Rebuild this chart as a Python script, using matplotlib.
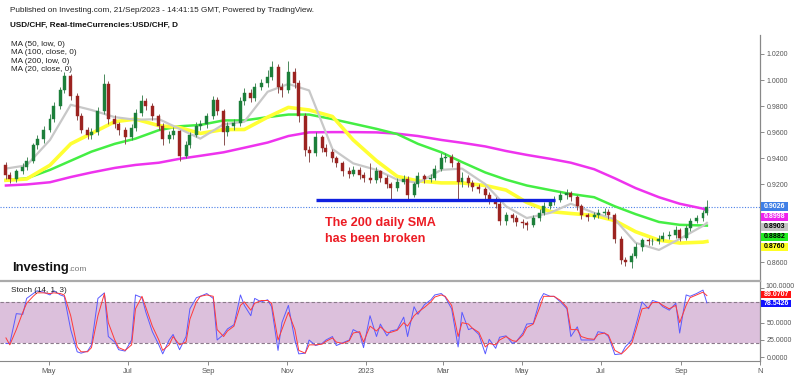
import numpy as np
import pandas as pd
import matplotlib
matplotlib.use('Agg')
import matplotlib.pyplot as plt
from matplotlib.patches import Rectangle

plt.rcParams['font.family'] = ['Liberation Sans', 'DejaVu Sans']

# ---------------- data (3-business-day candles) ----------------
first_open = 0.935
closes = [0.927, 0.924, 0.930, 0.933, 0.938, 0.950, 0.955, 0.962, 0.970, 0.980,
          0.992, 1.003, 0.988, 0.972, 0.962, 0.958, 0.960, 0.976, 0.997, 0.970,
          0.966, 0.962, 0.956, 0.963, 0.975, 0.984, 0.980, 0.972, 0.965, 0.955,
          0.958, 0.961, 0.942, 0.950, 0.958, 0.965, 0.966, 0.972, 0.985, 0.976,
          0.960, 0.965, 0.967, 0.984, 0.990, 0.986, 0.995, 0.998, 1.002, 1.010,
          0.995, 0.992, 1.006, 0.998, 0.972, 0.946, 0.944, 0.956, 0.948, 0.945,
          0.940, 0.936, 0.930, 0.928, 0.931, 0.927, 0.925, 0.923, 0.930, 0.925,
          0.920, 0.917, 0.922, 0.924, 0.912, 0.920, 0.926, 0.924, 0.925, 0.932,
          0.940, 0.941, 0.936, 0.922, 0.925, 0.921, 0.918, 0.916, 0.912, 0.908,
          0.905, 0.892, 0.896, 0.894, 0.891, 0.890, 0.889, 0.894, 0.898, 0.903,
          0.906, 0.908, 0.912, 0.913, 0.910, 0.903, 0.896, 0.895, 0.896, 0.898,
          0.899, 0.896, 0.878, 0.862, 0.860, 0.865, 0.872, 0.877, 0.876, 0.876,
          0.878, 0.880, 0.881, 0.885, 0.879, 0.886, 0.892, 0.894, 0.898, 0.9026]
highs = [0.937, 0.929, 0.932, 0.936, 0.941, 0.952, 0.958, 0.965, 0.974, 0.983,
         0.995, 1.0064, 1.005, 0.990, 0.975, 0.964, 0.963, 0.979, 1.005, 0.999,
         0.973, 0.968, 0.964, 0.966, 0.978, 0.9886, 0.986, 0.982, 0.974, 0.967,
         0.961, 0.964, 0.962, 0.953, 0.960, 0.968, 0.969, 0.975, 0.988, 0.987,
         0.978, 0.968, 0.970, 0.987, 0.994, 0.993, 0.998, 1.001, 1.008, 1.0148,
         1.012, 0.998, 1.0146, 1.009, 1.000, 0.975, 0.949, 0.960, 0.958, 0.951,
         0.947, 0.942, 0.938, 0.933, 0.934, 0.933, 0.929, 0.936, 0.933, 0.931,
         0.927, 0.922, 0.925, 0.927, 0.926, 0.922, 0.929, 0.928, 0.928, 0.935,
         0.944, 0.944, 0.943, 0.938, 0.929, 0.927, 0.923, 0.920, 0.918, 0.914,
         0.910, 0.907, 0.899, 0.898, 0.896, 0.893, 0.892, 0.896, 0.901, 0.906,
         0.909, 0.911, 0.915, 0.916, 0.915, 0.912, 0.905, 0.898, 0.899, 0.901,
         0.902, 0.901, 0.898, 0.880, 0.864, 0.867, 0.875, 0.879, 0.879, 0.879,
         0.881, 0.883, 0.884, 0.888, 0.886, 0.889, 0.894, 0.896, 0.900, 0.908]
lows = [0.924, 0.921, 0.922, 0.928, 0.931, 0.936, 0.947, 0.952, 0.960, 0.968,
        0.978, 0.990, 0.985, 0.969, 0.959, 0.955, 0.955, 0.958, 0.974, 0.966,
        0.963, 0.958, 0.951, 0.954, 0.961, 0.972, 0.977, 0.969, 0.962, 0.950,
        0.952, 0.955, 0.938, 0.940, 0.948, 0.956, 0.962, 0.963, 0.970, 0.973,
        0.950, 0.957, 0.962, 0.965, 0.981, 0.983, 0.984, 0.992, 0.995, 1.000,
        0.990, 0.987, 0.990, 0.994, 0.968, 0.942, 0.937, 0.942, 0.945, 0.942,
        0.937, 0.933, 0.926, 0.925, 0.926, 0.924, 0.922, 0.921, 0.921, 0.922,
        0.917, 0.909, 0.915, 0.920, 0.908, 0.910, 0.918, 0.921, 0.922, 0.923,
        0.930, 0.937, 0.933, 0.909, 0.918, 0.918, 0.915, 0.913, 0.909, 0.905,
        0.902, 0.889, 0.889, 0.891, 0.888, 0.886, 0.885, 0.887, 0.892, 0.896,
        0.901, 0.904, 0.906, 0.909, 0.907, 0.900, 0.893, 0.892, 0.893, 0.894,
        0.896, 0.893, 0.875, 0.859, 0.857, 0.856, 0.863, 0.869, 0.873, 0.873,
        0.874, 0.876, 0.878, 0.879, 0.876, 0.877, 0.884, 0.890, 0.892, 0.896]

# moving averages, sampled every 4th candle (plus the last one)
ma_yellow_50low = [0.923, 0.924, 0.9346, 0.951, 0.959, 0.968, 0.970, 0.965, 0.9635, 0.959,
                   0.962, 0.962, 0.9715, 0.979, 0.977, 0.972, 0.954, 0.938, 0.926, 0.9225,
                   0.921, 0.921, 0.919, 0.9155, 0.906, 0.899, 0.8975, 0.896, 0.892, 0.8835,
                   0.877, 0.8748, 0.8755, 0.8760]
ma_green_100close = [0.923, 0.9245, 0.931, 0.938, 0.945, 0.951, 0.955, 0.9615, 0.9645, 0.9655,
                     0.969, 0.969, 0.9715, 0.9735, 0.9735, 0.970, 0.9665, 0.9625, 0.9585, 0.951,
                     0.9445, 0.937, 0.929, 0.9235, 0.919, 0.9155, 0.9125, 0.910, 0.903, 0.897,
                     0.891, 0.8888, 0.8883, 0.8882]
ma_magenta_200low = [0.919, 0.9198, 0.9215, 0.9255, 0.929, 0.9325, 0.9348, 0.9365, 0.9395, 0.9418,
                     0.9445, 0.948, 0.952, 0.957, 0.9598, 0.960, 0.960, 0.9598, 0.9588, 0.957,
                     0.954, 0.9518, 0.949, 0.9455, 0.9425, 0.9395, 0.9365, 0.9315, 0.9245, 0.917,
                     0.910, 0.905, 0.9012, 0.8998]
ma_gray_20close = [0.932, 0.9345, 0.954, 0.981, 0.977, 0.9715, 0.9695, 0.970, 0.9625, 0.955,
                   0.966, 0.968, 0.991, 0.997, 0.992, 0.947, 0.936, 0.931, 0.9235, 0.921,
                   0.931, 0.932, 0.920, 0.903, 0.894, 0.898, 0.905, 0.898, 0.893, 0.875,
                   0.8695, 0.878, 0.888, 0.8903]

stoch_k = [20, 20, 63, 62, 85, 92, 96, 94, 90, 96, 90, 88, 40, 8, 6, 9, 18, 85, 93, 30,
           22, 11, 9, 25, 90, 86, 65, 37, 18, 5, 25, 33, 11, 30, 70, 86, 88, 92, 85, 25,
           33, 41, 47, 90, 75, 60, 85, 80, 83, 73, 10, 50, 75, 25, 5, 6, 25, 17, 20, 25,
           30, 17, 21, 25, 40, 35, 14, 60, 30, 48, 31, 38, 40, 58, 30, 73, 62, 76, 83, 90,
           92, 87, 70, 15, 65, 40, 42, 33, 5, 26, 13, 29, 31, 20, 23, 35, 48, 49, 82, 92,
           88, 88, 80, 70, 30, 44, 25, 25, 25, 37, 35, 30, 4, 5, 15, 25, 45, 80, 70, 82,
           79, 73, 68, 78, 35, 90, 88, 92, 97, 78.5426]
stoch_d = [28, 18, 40, 65, 78, 88, 93, 93, 92, 93, 92, 90, 60, 15, 8, 8, 14, 60, 92, 50,
           25, 14, 10, 18, 70, 88, 72, 45, 25, 10, 18, 30, 18, 22, 55, 80, 88, 90, 88, 40,
           30, 38, 45, 75, 80, 68, 78, 82, 82, 78, 25, 40, 65, 40, 10, 6, 18, 18, 19, 23,
           28, 22, 20, 24, 35, 37, 22, 45, 38, 44, 36, 36, 39, 50, 45, 60, 65, 72, 80, 87,
           90, 88, 75, 30, 50, 48, 42, 36, 15, 20, 18, 25, 30, 24, 23, 32, 43, 48, 72, 88,
           88, 88, 82, 72, 40, 40, 30, 27, 26, 33, 35, 32, 10, 5, 10, 20, 38, 70, 72, 79,
           79, 75, 70, 75, 50, 75, 86, 90, 94, 89.0707]

support_level = 0.9077
support_start, support_end = '2022-11-23', '2023-05-27'
last_price = 0.9026

x_tick_dates = ['2022-05-01', '2022-07-01', '2022-09-01', '2022-11-01', '2023-01-01',
                '2023-03-01', '2023-05-01', '2023-07-01', '2023-09-01', '2023-11-01']
x_tick_labels = ['May', 'Jul', 'Sep', 'Nov', '2023', 'Mar', 'May', 'Jul', 'Sep', 'N']
price_ticks = [0.86, 0.92, 0.94, 0.96, 0.98, 1.00, 1.02]
stoch_ticks = [0, 25, 50, 75, 100]
stoch_tick_labels = ['0.0000', '25.0000', '50.0000', '', '']

# ---------------- figure ----------------
W, H = 800, 376
fig = plt.figure(figsize=(8, 3.76), dpi=100)
fig.patch.set_facecolor('white')

def fx(x):
    return x / W

def fy(y):
    return 1 - y / H

ax = fig.add_axes([0, fy(281), fx(760), (281 - 35) / H])
axs = fig.add_axes([0, fy(361), fx(760), (361 - 281) / H])

dates = pd.bdate_range(end='2023-09-21', periods=len(closes), freq='3B')
closes_a = np.array(closes)
opens_a = np.r_[first_open, closes_a[:-1]]
highs_a = np.array(highs)
lows_a = np.array(lows)
up = closes_a >= opens_a
col = np.where(up, '#1c7f3a', '#9c2320')
wick_col = np.where(up, '#4a8a5c', '#8a5050')

ax.vlines(dates, lows_a, highs_a, colors=wick_col, lw=0.7, zorder=3)
body_h = np.maximum(np.abs(closes_a - opens_a), 0.0005)
ax.bar(dates, body_h, bottom=np.minimum(opens_a, closes_a), width=2.3,
       color=col, edgecolor=col, linewidth=0.3, zorder=4)

ma_dates = dates[list(range(0, len(closes) - 1, 4)) + [len(closes) - 1]]
ax.plot(ma_dates, ma_magenta_200low, color='#ee33ee', lw=1.8, zorder=2)
ax.plot(ma_dates, ma_green_100close, color='#44ee44', lw=1.8, zorder=2)
ax.plot(ma_dates, ma_yellow_50low, color='#ffff33', lw=2.6, zorder=2)
ax.plot(ma_dates, ma_gray_20close, color='#c8c8c8', lw=1.6, zorder=2)

ax.axhline(last_price, color='#4a7fe8', lw=0.8, ls=(0, (1, 1.5)), zorder=1)
ax.hlines(support_level, pd.Timestamp(support_start), pd.Timestamp(support_end),
          color='#1020e0', lw=2.4, zorder=5)

xmin = pd.Timestamp('2022-03-24 10:00')
xmax = pd.Timestamp('2023-11-01')
ax.set_xlim(xmin, xmax)
ax.set_ylim(1.02 - (281 - 54) / 1302, 1.02 + 19 / 1302)
ax.yaxis.tick_right()
ax.set_yticks(price_ticks)
ax.set_yticklabels(['%.4f' % v for v in price_ticks])
ax.tick_params(axis='y', length=3, width=0.6, color='#777', labelsize=5, labelcolor='#555', pad=2)
ax.set_xticks([])
for s in ['top', 'left', 'bottom']:
    ax.spines[s].set_visible(False)
ax.spines['right'].set_color('#888')
ax.spines['right'].set_linewidth(0.9)

# ---------------- stochastic ----------------
axs.axhspan(20, 80, color='#dcc0dc', lw=0, zorder=0)
axs.axhline(80, color='#8a7a8a', lw=0.8, ls=(0, (3, 2)), zorder=1)
axs.axhline(20, color='#8a7a8a', lw=0.8, ls=(0, (3, 2)), zorder=1)
axs.plot(dates, stoch_k, color='#5a5aff', lw=0.7, zorder=3)
axs.plot(dates, stoch_d, color='#ff3a3a', lw=0.7, zorder=4)
axs.set_xlim(xmin, xmax)
axs.set_ylim(-5.3, 110.1)
axs.yaxis.tick_right()
axs.set_yticks(stoch_ticks)
axs.set_yticklabels(stoch_tick_labels)
axs.tick_params(axis='y', length=3, width=0.6, color='#777', labelsize=5, labelcolor='#555', pad=2)
axs.set_xticks([pd.Timestamp(d) for d in x_tick_dates])
axs.set_xticklabels(x_tick_labels)
axs.tick_params(axis='x', length=3, width=0.6, color='#777', labelsize=5.5, labelcolor='#555', pad=2)
axs.spines['left'].set_visible(False)
axs.spines['top'].set_color('#aaa')
axs.spines['top'].set_linewidth(1.6)
axs.spines['bottom'].set_color('#888')
axs.spines['right'].set_color('#888')
axs.spines['right'].set_linewidth(0.9)
# 100 label sits just above the %D tag
fig.text(fx(765), fy(286), '100.0000', fontsize=5, color='#555', ha='left', va='center')

# ---------------- texts ----------------
fig.text(fx(10), fy(11), 'Published on Investing.com, 21/Sep/2023 - 14:41:15 GMT, Powered by TradingView.',
         fontsize=5.9, color='#222', va='center', ha='left')
fig.text(fx(10), fy(25), 'USD/CHF, Real-timeCurrencies:USD/CHF, D',
         fontsize=5.9, color='#111', va='center', ha='left', fontweight='bold')
for i, t in enumerate(['MA (50, low, 0)', 'MA (100, close, 0)', 'MA (200, low, 0)', 'MA (20, close, 0)']):
    fig.text(fx(11), fy(44.3 + 8.5 * i), t, fontsize=5.9, color='#222', va='center', ha='left')
fig.text(fx(11), fy(291), 'Stoch (14, 1, 3)', fontsize=5.9, color='#222', va='center', ha='left')

fig.text(fx(12), fy(271), 'Investing', fontsize=9.4, fontweight='bold', color='#111',
         va='baseline', ha='left')
fig.text(fx(68.5), fy(271), '.com', fontsize=6, color='#777', va='baseline', ha='left')

fig.text(fx(325), fy(223), 'The 200 daily SMA', fontsize=9.1, fontweight='bold',
         color='#ec1c24', va='center', ha='left')
fig.text(fx(325), fy(239), 'has been broken', fontsize=9.1, fontweight='bold',
         color='#ec1c24', va='center', ha='left')

def tag(ypx, text, bg, fg, w=27, h=8.5):
    fig.patches.append(Rectangle((fx(761), fy(ypx + h / 2)), w / W, h / H,
                                 transform=fig.transFigure, facecolor=bg, edgecolor='none', zorder=5))
    fig.text(fx(761 + w / 2), fy(ypx), text, fontsize=5, fontweight='bold', color=fg,
             ha='center', va='center', zorder=6)

tag(206.5, '0.9026', '#3f7fe6', 'white')
tag(216.8, '0.8998', '#ee22ee', 'white')
tag(226.8, '0.8903', '#c4c4c4', 'black')
tag(236.8, '0.8882', '#22ee22', 'black')
tag(246.8, '0.8760', '#ffff22', 'black')
tag(294.5, '89.0707', '#ff1111', 'white', w=30, h=7)
tag(303.5, '78.5426', '#1111ff', 'white', w=30, h=7)

fig.savefig('out.png', dpi=100, facecolor='white')
